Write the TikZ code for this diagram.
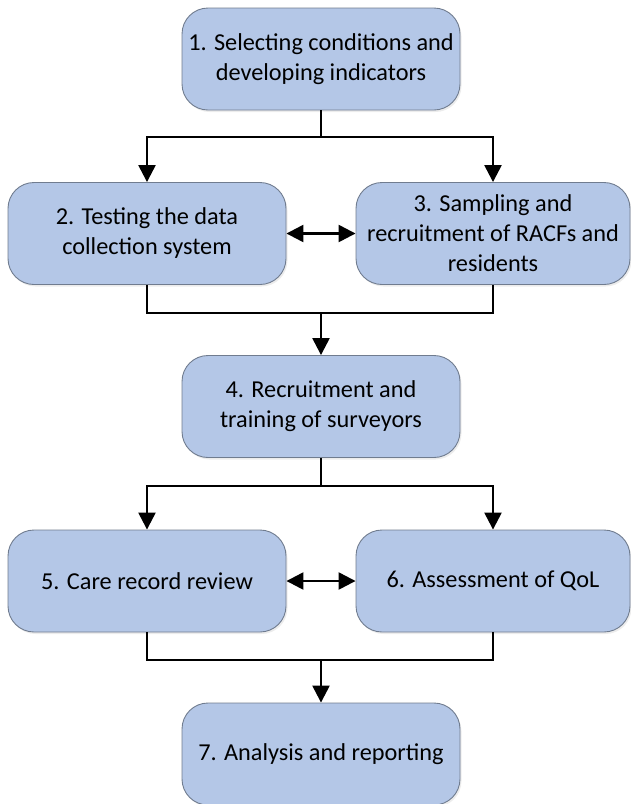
\documentclass[tikz,border=0pt]{standalone}
\usepackage{fontspec}
\setmainfont{Carlito}
\usetikzlibrary{arrows.meta,shadows}
\definecolor{boxfill}{HTML}{B4C7E7}
\definecolor{boxline}{HTML}{707C8F}
\begin{document}
\begin{tikzpicture}[x=1pt,y=1pt,
  stagebox/.style={draw=boxline, line width=0.9pt, fill=boxfill, rounded corners=26pt,
    minimum width=278pt, minimum height=102pt, inner sep=0pt, align=center,
    font=\fontsize{24.3}{30}\selectfont,
    drop shadow={shadow xshift=1.5pt, shadow yshift=-2pt, opacity=0.15, fill=gray}},
  link/.style={line width=2.4pt, black},
  arr/.style={link, -{Triangle[width=17pt,length=17pt]}},
  darr/.style={link, {Triangle[width=17pt,length=17pt]}-{Triangle[width=17pt,length=17pt]}}]
\useasboundingbox (0,0) rectangle (631,-804);
\node[stagebox] (n1) at (321,-59) {1. Selecting conditions and\\developing indicators};
\node[stagebox] (n2) at (147,-233.5) {2. Testing the data\\collection system};
\node[stagebox, minimum width=274pt] (n3) at (493,-233.5) {3. Sampling and\\recruitment of RACFs and\\residents};
\node[stagebox] (n4) at (321,-406.5) {4. Recruitment and\\training of surveyors};
\node[stagebox] (n5) at (147,-581) {5. Care record review};
\node[stagebox, minimum width=274pt] (n6) at (493,-581) {6. Assessment of QoL};
\node[stagebox] (n7) at (321,-754) {7. Analysis and reporting};
% 1 -> 2,3
\coordinate (j1) at (321,-137);
\draw[link] (n1.south) -- (j1);
\draw[arr] (j1) -| (n2.north);
\draw[arr] (j1) -| (n3.north);
\draw[darr] (n2.east) -- (n3.west);
% 2,3 -> 4
\coordinate (j2) at (321,-313);
\draw[link] (n2.south) |- (j2);
\draw[link] (n3.south) |- (j2);
\draw[arr] (j2) -- (n4.north);
% 4 -> 5,6
\coordinate (j3) at (321,-486);
\draw[link] (n4.south) -- (j3);
\draw[arr] (j3) -| (n5.north);
\draw[arr] (j3) -| (n6.north);
\draw[darr] (n5.east) -- (n6.west);
% 5,6 -> 7
\coordinate (j4) at (321,-660);
\draw[link] (n5.south) |- (j4);
\draw[link] (n6.south) |- (j4);
\draw[arr] (j4) -- (n7.north);
\end{tikzpicture}
\end{document}
